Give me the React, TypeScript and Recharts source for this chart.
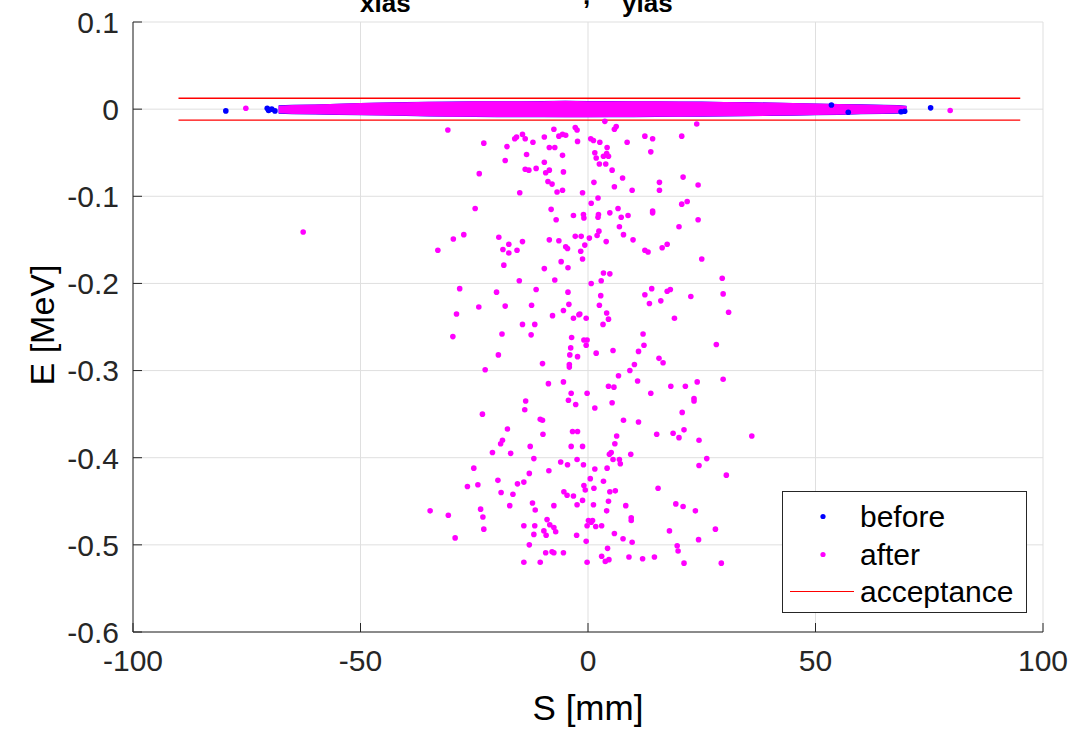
import React from 'react';
import { ComposedChart, Area, Scatter, XAxis, YAxis, CartesianGrid, ReferenceLine } from 'recharts';

const FONT = '"Liberation Sans", Arial, Helvetica, sans-serif';
const INK = '#262626';
const BLUE = '#0000ff';
const MAGENTA = '#ff00ff';
const RED = '#ff0000';

const xTicks = [-100, -50, 0, 50, 100];
const yTicks = [0.1, 0, -0.1, -0.2, -0.3, -0.4, -0.5, -0.6];

// the core of the beam is too dense to read dot by dot, so it is kept as the cloud's outline
const bandX = [-68, -65, -60, -55, -50, -45, -40, -35, -30, -25, -20, -15, -10, -5, 0, 5, 10, 15, 20, 25, 30, 35, 40, 45, 50, 55, 60, 65, 68, 70];
const afterTop = [0.004, 0.0048, 0.0052, 0.0062, 0.007, 0.0076, 0.008, 0.0085, 0.0086, 0.009, 0.009, 0.009, 0.0092, 0.0095, 0.0092, 0.0092, 0.009, 0.009, 0.0088, 0.0086, 0.0082, 0.008, 0.0075, 0.007, 0.0064, 0.0058, 0.0052, 0.0048, 0.0044, 0.0035];
const afterBottom = [-0.0048, -0.0055, -0.006, -0.0064, -0.0068, -0.0072, -0.0077, -0.0082, -0.0086, -0.0088, -0.009, -0.009, -0.009, -0.0092, -0.0092, -0.009, -0.009, -0.0088, -0.0086, -0.0084, -0.0082, -0.008, -0.0077, -0.0073, -0.0068, -0.0063, -0.0057, -0.0052, -0.0048, -0.0035];
const beforeTop = [0.0044, 0.005, 0.0054, 0.0063, 0.0071, 0.0077, 0.0081, 0.0086, 0.0087, 0.0091, 0.0091, 0.0091, 0.0093, 0.0096, 0.0093, 0.0093, 0.0091, 0.0091, 0.0089, 0.0087, 0.0083, 0.0081, 0.0076, 0.0071, 0.0066, 0.006, 0.0055, 0.0051, 0.0048, 0.004];
const beforeBottom = [-0.0052, -0.0058, -0.0062, -0.0066, -0.007, -0.0074, -0.0079, -0.0084, -0.0088, -0.009, -0.0093, -0.0093, -0.0093, -0.0094, -0.0094, -0.0092, -0.0092, -0.009, -0.0088, -0.0086, -0.0084, -0.0082, -0.0079, -0.0075, -0.007, -0.0066, -0.006, -0.0055, -0.0052, -0.004];

const beforeDots: [number, number][] = [
  [-79.6, -0.002], [75.3, 0.0015], [-70.5, 0.001], [-70.2, -0.0015], [-69.5, 0.0], [-68.8, -0.002],
  [53.5, 0.0048], [68.8, -0.003], [69.6, -0.0025], [57.2, -0.0035],
];

const afterDots: [number, number][] = [
  [-75.2, 0.001], [79.6, -0.0015],
  [-30.8, -0.024], [-22.9, -0.039], [-17.8, -0.043], [-16.1, -0.034], [-15.7, -0.032], [-14.4, -0.029], [-13.8, -0.034], [-12.1, -0.038],
  [-9.6, -0.032], [-7.5, -0.023], [-6.4, -0.031], [-5.6, -0.029], [-4.9, -0.03], [-2.8, -0.021], [-2.4, -0.024], [-2.3, -0.037],
  [-8.5, -0.044], [-7.3, -0.044], [-13.5, -0.052], [-5.6, -0.053], [-18.2, -0.059], [-9.6, -0.061], [-13.8, -0.069], [-13.0, -0.07],
  [-11.4, -0.068], [-9.3, -0.073], [-8.5, -0.07], [-5.4, -0.072], [-23.9, -0.074], [-8.8, -0.083], [-7.9, -0.086], [-6.8, -0.095],
  [-5.6, -0.093], [-15.0, -0.096], [-24.8, -0.114], [-8.1, -0.115], [-7.0, -0.127], [-3.2, -0.122], [-2.8, -0.146], [-19.6, -0.147],
  [-29.6, -0.149], [-27.3, -0.144], [-33.0, -0.162], [-17.4, -0.155], [-14.4, -0.152], [-18.7, -0.161], [-17.4, -0.165], [-15.6, -0.162],
  [-8.5, -0.15], [-6.4, -0.151], [-4.9, -0.158], [-4.5, -0.16], [-18.5, -0.179], [-5.9, -0.175], [-4.4, -0.182], [-9.6, -0.183],
  [-62.6, -0.141],
  [3.7, -0.014], [5.8, -0.023], [6.2, -0.02], [23.9, -0.017], [0.6, -0.034], [1.2, -0.036], [2.6, -0.038], [8.6, -0.038],
  [12.5, -0.031], [14.2, -0.034], [20.6, -0.031], [4.2, -0.044], [1.5, -0.05], [3.4, -0.054], [4.1, -0.051], [4.5, -0.054],
  [1.8, -0.056], [13.8, -0.049], [2.5, -0.063], [3.9, -0.063], [5.3, -0.07], [7.6, -0.079], [1.3, -0.084], [5.8, -0.089],
  [9.7, -0.093], [15.7, -0.084], [15.7, -0.093], [20.9, -0.078], [24.2, -0.087], [-1.2, -0.096], [2.2, -0.102], [0.7, -0.108],
  [6.6, -0.114], [14.2, -0.117], [14.2, -0.119], [20.6, -0.109], [21.8, -0.106], [24.2, -0.127], [-1.0, -0.121], [-0.9, -0.125],
  [2.3, -0.121], [2.2, -0.124], [4.8, -0.119], [7.3, -0.124], [8.8, -0.122], [6.9, -0.135], [7.8, -0.144], [20.0, -0.135],
  [2.4, -0.14], [2.0, -0.145], [-1.5, -0.146], [0.3, -0.148], [4.0, -0.152], [9.9, -0.15], [-0.7, -0.156], [-1.6, -0.163],
  [-1.2, -0.172], [12.5, -0.162], [13.2, -0.164], [16.3, -0.159], [17.4, -0.155], [25.0, -0.172],
  [-15.1, -0.197], [-7.3, -0.196], [-28.2, -0.206], [-20.1, -0.21], [-11.4, -0.207], [-4.4, -0.21], [-24.0, -0.227], [-18.2, -0.226],
  [-12.4, -0.225], [-4.2, -0.224], [-28.9, -0.235], [-7.8, -0.237], [-5.4, -0.231], [-3.2, -0.24], [-2.0, -0.236], [-14.4, -0.247],
  [-11.7, -0.247], [-29.7, -0.261], [-18.9, -0.258], [-12.5, -0.259], [-3.6, -0.262], [-3.8, -0.274], [-4.0, -0.282], [-2.3, -0.284],
  [-19.7, -0.282], [-10.0, -0.292], [-4.1, -0.293], [-4.1, -0.296], [-22.6, -0.299], [-8.7, -0.315], [-5.4, -0.313], [-3.7, -0.326],
  [-4.3, -0.334], [-2.7, -0.339], [-13.7, -0.335], [-13.9, -0.345], [-23.2, -0.35], [-10.5, -0.356], [-10.0, -0.357],
  [3.4, -0.188], [4.8, -0.189], [2.9, -0.197], [0.7, -0.2], [29.5, -0.194], [14.0, -0.206], [12.5, -0.213], [17.4, -0.209],
  [18.1, -0.207], [22.6, -0.215], [29.7, -0.212], [2.8, -0.214], [2.5, -0.225], [13.5, -0.223], [16.0, -0.22], [30.9, -0.233],
  [-1.8, -0.235], [-0.4, -0.24], [4.1, -0.234], [4.5, -0.241], [3.3, -0.247], [19.0, -0.24], [12.1, -0.258], [-0.9, -0.265],
  [-0.2, -0.265], [-0.4, -0.271], [12.3, -0.271], [28.2, -0.27], [1.8, -0.28], [5.5, -0.277], [11.1, -0.278], [15.6, -0.286],
  [16.5, -0.291], [10.2, -0.293], [9.2, -0.3], [6.7, -0.306], [10.9, -0.312], [24.0, -0.313], [29.7, -0.31], [4.5, -0.318],
  [5.7, -0.319], [18.2, -0.318], [21.4, -0.318], [-0.2, -0.326], [13.8, -0.326], [23.3, -0.332], [23.3, -0.335], [5.3, -0.337],
  [1.5, -0.343], [20.7, -0.348],
  [-17.7, -0.367], [-3.4, -0.37], [-2.3, -0.37], [-9.9, -0.373], [-18.8, -0.38], [-19.2, -0.384], [-12.7, -0.387], [-3.7, -0.387],
  [-21.0, -0.394], [-17.0, -0.395], [-11.9, -0.401], [-6.0, -0.405], [-4.5, -0.408], [-2.4, -0.402], [-25.1, -0.412], [-12.9, -0.418],
  [-8.6, -0.415], [-19.8, -0.426], [-26.5, -0.433], [-24.2, -0.431], [-15.5, -0.43], [-14.1, -0.428], [-19.1, -0.44], [-16.5, -0.442],
  [-5.3, -0.439], [-4.6, -0.443], [-3.2, -0.444], [-34.7, -0.461], [-30.7, -0.466], [-23.6, -0.459], [-23.1, -0.468], [-17.2, -0.455],
  [-12.2, -0.452], [-11.6, -0.46], [-7.5, -0.455], [-2.4, -0.454], [-22.9, -0.482], [-29.2, -0.492], [-14.1, -0.478], [-11.7, -0.478],
  [-9.0, -0.471], [-8.4, -0.477], [-7.5, -0.48], [-7.1, -0.485], [-9.7, -0.484], [-9.2, -0.489], [-11.9, -0.488], [-2.5, -0.489],
  [-12.9, -0.5], [-9.3, -0.509], [-7.9, -0.508], [-7.5, -0.509], [-5.4, -0.509], [-14.1, -0.52], [-10.5, -0.52],
  [7.8, -0.357], [11.1, -0.359], [-1.2, -0.387], [-1.0, -0.408], [6.3, -0.375], [5.9, -0.384], [4.7, -0.396], [5.1, -0.394],
  [5.5, -0.402], [6.9, -0.402], [7.1, -0.407], [9.4, -0.396], [4.2, -0.412], [1.5, -0.413], [15.1, -0.373], [18.7, -0.372],
  [20.0, -0.377], [21.1, -0.368], [24.4, -0.38], [36.0, -0.375], [26.1, -0.401], [24.4, -0.409], [30.4, -0.42], [0.5, -0.424],
  [3.4, -0.427], [-0.9, -0.432], [-0.6, -0.437], [1.3, -0.435], [4.8, -0.439], [6.0, -0.438], [15.4, -0.435], [-1.2, -0.449],
  [1.2, -0.454], [4.5, -0.45], [4.1, -0.461], [8.3, -0.455], [19.3, -0.453], [20.9, -0.456], [23.6, -0.461], [0.1, -0.472],
  [1.0, -0.472], [0.7, -0.474], [-0.2, -0.478], [1.7, -0.479], [3.0, -0.478], [9.5, -0.469], [9.5, -0.472], [-0.4, -0.496],
  [5.8, -0.487], [7.7, -0.493], [9.7, -0.497], [17.9, -0.484], [28.0, -0.482], [24.3, -0.494], [19.6, -0.501], [19.8, -0.507],
  [4.3, -0.504], [3.0, -0.513], [-0.2, -0.52], [3.8, -0.519], [4.6, -0.517], [9.0, -0.514], [12.0, -0.516], [14.6, -0.514],
  [21.1, -0.521], [29.3, -0.521],
];

const acceptX = [-90, 95];
const acceptE = 0.0125;

const legendItems = [
  { name: 'before', color: BLUE, kind: 'dot' },
  { name: 'after', color: MAGENTA, kind: 'dot' },
  { name: 'acceptance', color: RED, kind: 'line' },
];

const bandRows = bandX.map((x, i) => ({
  x,
  before: [beforeBottom[i], beforeTop[i]],
  after: [afterBottom[i], afterTop[i]],
}));
const toPts = (arr: [number, number][]) => arr.map(([x, y]) => ({ x, y }));

// ticks point into the plot, labels sit outside (x, y come in at the axis line)
const YTick = (props: any) => {
  const { x, y, payload } = props;
  return (
    <g>
      <line x1={x} x2={x + 9} y1={y} y2={y} stroke={INK} />
      <text x={x - 14} y={y} dy="0.36em" textAnchor="end" fontSize={30} fill={INK} fontFamily={FONT}>
        {String(payload.value)}
      </text>
    </g>
  );
};

const XTick = (props: any) => {
  const { x, y, payload } = props;
  return (
    <g>
      <line x1={x} x2={x} y1={y} y2={y - 9} stroke={INK} />
      <text x={x} y={y + 39} textAnchor="middle" fontSize={30} fill={INK} fontFamily={FONT}>
        {String(payload.value)}
      </text>
    </g>
  );
};

const dot = (color: string) => (p: any) => <circle cx={p.cx} cy={p.cy} r={2.8} fill={color} />;

export default function App() {
  return (
    <div style={{ position: 'absolute', left: 0, top: 0, width: 1076, height: 729, background: '#fff' }}>
      <ComposedChart width={1076} height={729} data={bandRows} margin={{ top: 22, right: 33, bottom: 47, left: 73 }}>
        <CartesianGrid stroke="#dfdfdf" />
        <XAxis
          dataKey="x"
          type="number"
          domain={[-100, 100]}
          ticks={xTicks}
          height={50}
          tickSize={0}
          tickMargin={0}
          tickLine={false}
          tick={<XTick />}
          axisLine={{ stroke: INK }}
          allowDataOverflow
        />
        <YAxis
          type="number"
          domain={[-0.6, 0.1]}
          ticks={yTicks}
          width={60}
          tickSize={0}
          tickMargin={0}
          tickLine={false}
          tick={<YTick />}
          axisLine={{ stroke: INK }}
          allowDataOverflow
        />
        <Area dataKey="before" type="linear" stroke="none" fill={BLUE} fillOpacity={1} isAnimationActive={false} />
        <Area dataKey="after" type="linear" stroke="none" fill={MAGENTA} fillOpacity={1} isAnimationActive={false} />
        <Scatter data={toPts(beforeDots)} dataKey="y" shape={dot(BLUE)} isAnimationActive={false} />
        <Scatter data={toPts(afterDots)} dataKey="y" shape={dot(MAGENTA)} isAnimationActive={false} />
        <ReferenceLine
          segment={[{ x: acceptX[0], y: acceptE }, { x: acceptX[1], y: acceptE }]}
          stroke={RED}
          strokeWidth={1.3}
        />
        <ReferenceLine
          segment={[{ x: acceptX[0], y: -acceptE }, { x: acceptX[1], y: -acceptE }]}
          stroke={RED}
          strokeWidth={1.3}
        />
      </ComposedChart>

      {/* title is cut off by the top of the figure, only the bottom of it shows */}
      <svg width={1076} height={729} style={{ position: 'absolute', left: 0, top: 0, pointerEvents: 'none' }}>
        <g fontFamily={FONT} fill="#000">
          <text x={360} y={12} fontSize={26} fontWeight="bold">xlas</text>
          <text x={583} y={4} fontSize={26} fontWeight="bold">,</text>
          <text x={622} y={12} fontSize={26} fontWeight="bold">ylas</text>
          <text x={588} y={720} fontSize={35} textAnchor="middle">S [mm]</text>
          <text x={54} y={325} fontSize={34} textAnchor="middle" transform="rotate(-90 54 325)">E [MeV]</text>
        </g>
      </svg>

      <div
        style={{
          position: 'absolute', left: 782, top: 491, width: 245, height: 122, boxSizing: 'border-box',
          border: `1px solid ${INK}`, background: '#fff',
        }}
      >
        <svg width={243} height={120} style={{ display: 'block' }}>
          {legendItems.map((it, i) => {
            const cy = Math.round(24 + i * 37.5) + 0.5;
            return (
              <g key={it.name}>
                {it.kind === 'dot'
                  ? <circle cx={40} cy={cy} r={2.6} fill={it.color} />
                  : <line x1={7} x2={71} y1={cy} y2={cy} stroke={it.color} strokeWidth={1.2} />}
                <text x={77} y={cy} dy="0.36em" fontSize={30} fontFamily={FONT} fill="#000">{it.name}</text>
              </g>
            );
          })}
        </svg>
      </div>
    </div>
  );
}
